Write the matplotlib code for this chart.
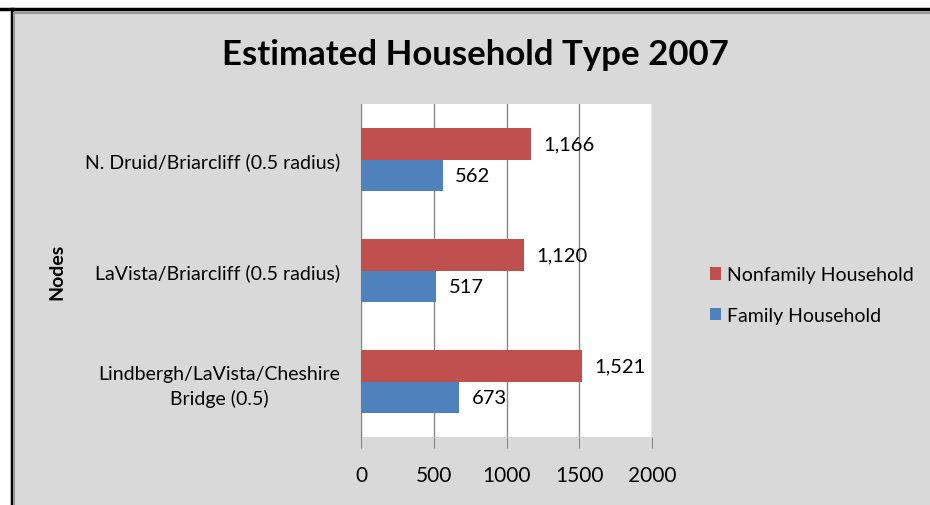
import matplotlib
matplotlib.use("Agg")
import matplotlib.pyplot as plt
from matplotlib.lines import Line2D
import numpy as np

categories = ["Lindbergh/LaVista/Cheshire\nBridge (0.5)",
              "LaVista/Briarcliff (0.5 radius)",
              "N. Druid/Briarcliff (0.5 radius)"]
family = [673, 517, 562]
nonfamily = [1521, 1120, 1166]
series_names = ["Nonfamily Household", "Family Household"]
xticks = [0, 500, 1000, 1500, 2000]

RED = "#C0504D"
BLUE = "#4F81BD"
BG = "#D9D9D9"
FONT = ["Lato", "DejaVu Sans"]
plt.rcParams['font.family'] = FONT

fig = plt.figure(figsize=(9.3, 5.06), dpi=100, facecolor=BG)
ax = fig.add_axes([361/930, 1 - 438/506, (652-361)/930, (438-105)/506])
ax.set_facecolor("white")

y = np.arange(len(categories))
h = 0.28
b_fam = ax.barh(y - h/2, family, height=h, color=BLUE, label=series_names[1], zorder=3)
b_non = ax.barh(y + h/2, nonfamily, height=h, color=RED, label=series_names[0], zorder=3)

for bars, vals in ((b_fam, family), (b_non, nonfamily)):
    for bar, v in zip(bars, vals):
        ax.annotate(f"{v:,}", xy=(bar.get_width(), bar.get_y() + bar.get_height()/2),
                    xytext=(9, 0), textcoords="offset points", va="center", ha="left",
                    fontsize=14.5, color="black")

ax.set_xlim(0, 2000)
ax.set_ylim(-0.5, 2.5)
ax.set_xticks(xticks)
ax.set_xticklabels([str(t) for t in xticks], fontsize=15)
ax.set_yticks(y)
ax.set_yticklabels(categories, fontsize=14, multialignment="center", linespacing=1.45)
ax.tick_params(axis="y", length=0, pad=15)
ax.tick_params(axis="x", length=8, color="#888888", pad=12, direction="out")
ax.grid(axis="x", color="#888888", linewidth=1, zorder=0)
for s in ("top", "right", "bottom"):
    ax.spines[s].set_visible(False)
ax.spines["left"].set_color("#888888")

fig.text(57/930, 1 - 272/506, "Nodes", rotation=90, ha="center", va="center",
         fontsize=14, fontweight="bold")
fig.text(475/930, 1 - 55/506, "Estimated Household Type 2007", ha="center", va="center",
         fontsize=25, fontweight="bold")

handles, labels = ax.get_legend_handles_labels()
leg = fig.legend(handles[::-1], labels[::-1], loc="center left",
                 bbox_to_anchor=(692/930, 1 - 296/506), frameon=False,
                 fontsize=14, handlelength=0.6, handleheight=0.6,
                 handletextpad=0.3, labelspacing=1.2)

# Frame border
fig.add_artist(Line2D([0, 1], [1 - 9.5/506, 1 - 9.5/506], color="black", lw=2.5, transform=fig.transFigure))
fig.add_artist(Line2D([11.5/930, 11.5/930], [0, 1 - 9.5/506], color="black", lw=2.5, transform=fig.transFigure))
fig.add_artist(Line2D([14/930, 1], [1 - 13.5/506, 1 - 13.5/506], color="#999999", lw=1.5, transform=fig.transFigure))
fig.add_artist(Line2D([14/930, 14/930], [0, 1 - 13.5/506], color="#999999", lw=1.5, transform=fig.transFigure))
fig.add_artist(plt.Rectangle((0, 1 - 8/506), 1, 8/506, color="white", transform=fig.transFigure, zorder=0))
fig.add_artist(plt.Rectangle((0, 0), 10/930, 1, color="white", transform=fig.transFigure, zorder=0))

fig.savefig("out.png", dpi=100, facecolor=BG)
